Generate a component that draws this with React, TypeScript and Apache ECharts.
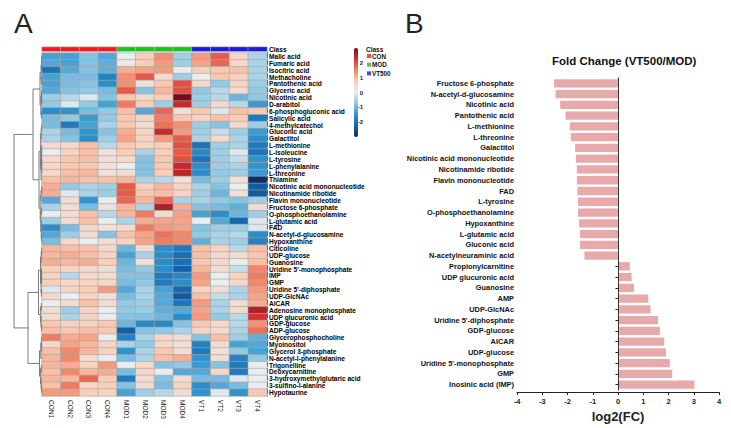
import React, { useEffect, useRef } from "react";
import * as echarts from "echarts";

const samples = ["CON1", "CON2", "CON3", "CON4", "MOD1", "MOD2", "MOD3", "MOD4", "VT1", "VT2", "VT3", "VT4"];
const sampleClass = [0, 0, 0, 0, 1, 1, 1, 1, 2, 2, 2, 2];
const classNames = ["CON", "MOD", "VT500"];
const classColors = ["#ee1d1d", "#22bf22", "#1b1bd8"];

const metabolites = [
  "Malic acid", "Fumaric acid", "Isocitric acid", "Methacholine", "Pantothenic acid", "Glyceric acid",
  "Nicotinic acid", "D-arabitol", "6-phosphogluconic acid", "Salicylic acid", "4-methylcatechol",
  "Gluconic acid", "Galactitol", "L-methionine", "L-isoleucine", "L-tyrosine", "L-phenylalanine",
  "L-threonine", "Thiamine", "Nicotinic acid mononucleotide", "Nicotinamide ribotide",
  "Flavin mononucleotide", "Fructose 6-phosphate", "O-phosphoethanolamine", "L-glutamic acid", "FAD",
  "N-acetyl-d-glucosamine", "Hypoxanthine", "Citicoline", "UDP-glucose", "Guanosine",
  "Uridine 5'-monophosphate", "IMP", "GMP", "Uridine 5'-diphosphate", "UDP-GlcNAc", "AICAR",
  "Adenosine monophosphate", "UDP glucuronic acid", "GDP-glucose", "ADP-glucose",
  "Glycerophosphocholine", "Myoinositol", "Glycerol 3-phosphate", "N-acetyl-l-phenylalanine",
  "Trigonelline", "Deoxycarnitine", "3-hydroxymethylglutaric acid", "3-sulfino-l-alanine", "Hypotaurine",
];

const heatValues = [
  [-1.3, -1.3, -0.8, -1.2, 0, 0.7, 1.4, -0.6, 1.3, 1.9, 0.5, -0.5],
  [-1.2, -1.3, -0.8, -1.1, 0.1, 0.7, 1.3, -0.6, 1.2, 1.8, 0.5, -0.5],
  [-2.0, -1.2, -0.8, -1.1, 1.1, 1.2, 1.3, 0, 0.7, 0.8, 0.9, -0.5],
  [-1.3, -0.9, -0.9, -1.8, 1.4, 1.9, 0.4, -0.6, 0, 0.8, 0.6, -0.5],
  [-1.3, -0.9, -0.8, -1.6, 1.4, 0.3, 0.8, 2.0, 0.5, -0.7, 0.6, -0.6],
  [-1.2, -0.8, -0.7, -0.9, 1.9, -0.8, 1.0, 2.0, -0.7, -0.4, 0.4, -0.7],
  [-0.6, -0.4, -0.1, -0.8, 0.8, 0.5, 0.7, 3.0, -0.6, -0.4, -1.0, -0.7],
  [-0.7, -0.1, -0.7, -1.3, 1.6, 0.7, -0.6, 2.4, -0.6, 0.5, -0.4, -1.4],
  [-1.6, -1.5, -0.9, -0.7, 0.9, -1.2, 1.8, 0.3, 0.8, -0.1, 0.9, 0.8],
  [-0.9, -0.7, -1.4, -0.7, 0.8, 0.6, 1.6, 0.8, 0.6, 0.9, 0.7, -1.9],
  [-0.9, -1.9, -1.3, -0.5, 0.8, 0.4, 1.7, 1.4, -0.6, -0.8, 0.5, -0.6],
  [-0.5, -0.9, -1.5, -0.8, 1.1, 0.6, 2.4, 1.3, -0.6, -0.3, -0.6, -1.4],
  [-0.5, -0.8, -1.6, -0.6, 1.2, 0.6, 1.3, 1.9, -0.5, 0.5, -0.5, -1.6],
  [0.5, 0.5, 0.9, -0.4, 0.8, 0.6, 0.7, 2.0, -2.0, -0.6, -0.5, -1.9],
  [0, 0.6, 0.9, 0.3, 0.7, -0.5, 0.7, 1.9, -1.7, -0.6, -0.1, -2.0],
  [0.5, 0.8, 0.9, 0.4, 0.5, -0.8, 0.8, 2.0, -2.0, -0.6, -0.3, -1.5],
  [0.5, 0.8, 0.8, 0.3, 0, -0.8, 0.8, 2.4, -1.6, -0.6, -0.5, -1.5],
  [0.5, 0.9, 1.0, 0.3, 0.4, -0.8, 0.7, 2.5, -1.6, -0.7, -0.6, -1.4],
  [0.9, 1.0, 0.9, 0.9, 1.0, -0.5, -0.4, 0.3, -0.9, -0.6, 0.3, -3.0],
  [1.1, -0.7, -0.5, -0.6, 1.9, 0.7, 1.0, 0.6, -0.5, -0.8, 0, -2.4],
  [1.1, -0.1, -0.5, -0.6, 1.9, 0.8, 0.9, 0.6, -0.6, -1.0, 0.3, -2.4],
  [-1.2, 0.4, -1.5, 0, 1.8, 1.0, 1.8, -0.5, -0.5, -0.7, -0.8, -0.6],
  [-0.5, 0.4, -0.9, 0.3, 1.0, -0.5, 2.6, 1.1, -0.8, -0.9, -1.1, 0.4],
  [0, 0.4, 0.9, -0.4, 1.0, 1.6, 0.4, 1.2, -1.3, -1.6, -1.0, -0.6],
  [-0.6, 0.4, 0.9, 0, -0.5, 1.1, 1.2, 1.2, 0, -1.2, -2.2, -0.1],
  [-1.6, -0.9, 0.5, 0.3, 0.4, 1.6, 1.3, 1.2, -0.8, -0.6, -0.6, -0.1],
  [-1.2, -0.6, 0.4, -0.8, 0.9, 1.2, 1.7, 1.5, -0.7, -0.5, -0.4, -1.6],
  [-0.9, 0.5, 0, 0.4, 0.6, 1.2, 1.6, 1.5, -1.1, -0.5, -0.6, -1.8],
  [1.0, 0.9, 0.9, 0.5, -1.0, 0.4, -1.6, -1.9, 0.9, 0.6, -0.4, 0.9],
  [1.0, 1.1, 0.9, 0.6, -1.3, -0.5, -1.6, -2.1, 0.9, 0.5, 0.4, 0.8],
  [1.1, 1.0, 1.1, 0.7, -1.0, 0.3, -1.6, -2.1, 0.8, 0.5, 0, 0.9],
  [0.7, 0.6, 0.5, 0.4, -0.9, -0.7, -1.6, -2.3, 1.0, 0.4, -0.3, 1.5],
  [0.6, -0.4, 0.5, 0.4, -0.8, -0.8, -1.9, -1.7, 1.3, 0, 0.6, 1.6],
  [0.7, 0.5, 0.6, 0.5, -0.9, -0.7, -1.9, -1.6, 1.2, 0, 0.5, 1.5],
  [-0.1, 0.6, 0.7, 1.3, -1.2, -0.5, -1.3, -2.2, 0.6, 0.4, -0.5, 1.3],
  [0.5, 0, 0.6, 0.3, -0.9, -0.5, -1.2, -2.4, 0.9, -0.3, -0.5, 1.2],
  [0, 0.4, 0.9, 0.4, -0.7, -0.6, -1.2, -2.0, 1.3, -0.5, 0.4, 1.1],
  [0.4, -0.6, 0.6, 0, -0.7, -0.6, -1.1, -1.2, 1.2, -0.5, 0.5, 2.6],
  [0.4, -0.5, 0.6, 0, -0.8, -0.8, -1.0, -1.6, 1.3, -0.7, -0.4, 2.3],
  [0.8, 0.6, 0.6, 0.8, -1.0, -1.7, -1.7, -0.8, 0.8, 0.5, -0.4, 1.4],
  [0.9, 0.8, 0.9, 0.8, -2.3, -0.8, -0.7, -0.5, 0.6, 0.4, -0.5, 1.7],
  [1.6, 1.1, 1.2, 0, -1.8, -0.5, 0.5, 0.4, -0.8, 0.9, -0.6, -1.1],
  [0.5, 1.2, 1.0, 0.6, -0.5, -0.7, 0.5, 0.3, -1.8, 0.4, -1.3, -1.2],
  [0.9, 1.5, 1.0, 0.6, -1.5, -0.5, 0.8, 0.4, -1.9, 0.3, -0.7, -1.3],
  [1.0, 1.5, 0.4, 0, -0.9, -0.5, 0.9, 1.1, -1.5, 0.4, -1.8, -0.7],
  [1.0, 1.1, 0.6, 1.3, 0, 0.5, -0.8, -0.7, -1.4, -0.8, -1.9, 0],
  [0.9, 1.5, 1.0, 1.1, -0.9, 0.5, 0, -1.2, -1.2, 0.5, -1.9, 0],
  [1.0, 1.0, 1.8, 0.7, -1.9, 0.4, -0.8, 0.4, -0.9, -0.9, -0.1, 0],
  [0.9, 1.6, 0.5, 0.7, -0.8, 0.4, -0.9, 0.6, -1.6, -1.2, -0.9, 0],
  [1.3, 1.3, 0.7, 0.6, -1.3, -0.6, -0.4, 0.4, -1.5, -0.1, -1.5, 0.8],
];

const colorTicks = [-2, -1, 0, 1, 2];

// Row dendrogram: [height, left, right]; leaves are row indices
type TreeNode = number | [number, TreeNode, TreeNode];
const dendroA: TreeNode = [2.0, [1.0, [0.5, [0.3, 0, 1], 2], [0.6, 3, 4]], [1.2, [0.5, 5, [0.3, 6, 7]], [0.6, 8, 9]]];
const dendroB: TreeNode = [3.0,
  [1.6, [0.8, [0.4, 10, 11], 12], [1.0, [0.5, [0.3, 13, 14], [0.4, [0.2, 15, 16], 17]], 18]],
  [1.8, [1.0, [0.4, 19, 20], 21], [1.2, [0.6, 22, 23], [0.8, [0.5, 24, 25], [0.5, 26, 27]]]]];
const dendroC: TreeNode = [3.5,
  [1.5, [0.8, [0.4, 28, 29], 30], [1.0, [0.5, 31, [0.3, 32, 33]], [0.6, 34, 35]]],
  [1.6, [0.7, 36, 37], [1.0, 38, [0.6, 39, 40]]]];
const dendroD: TreeNode = [2.5, [1.2, [0.6, 41, [0.4, 42, 43]], 44], [1.4, [0.7, 45, 46], [0.9, 47, [0.5, 48, 49]]]];
const dendroRoot: TreeNode = [28, [9, dendroA, dendroB], [14, dendroC, dendroD]];

const fcNames = [
  "Fructose 6-phosphate", "N-acetyl-d-glucosamine", "Nicotinic acid", "Pantothenic acid", "L-methionine",
  "L-threonine", "Galactitol", "Nicotinic acid mononucleotide", "Nicotinamide ribotide",
  "Flavin mononucleotide", "FAD", "L-tyrosine", "O-phosphoethanolamine", "Hypoxanthine",
  "L-glutamic acid", "Gluconic acid", "N-acetylneuraminic acid", "Propionylcarnitine",
  "UDP glucuronic acid", "Guanosine", "AMP", "UDP-GlcNAc", "Uridine 5'-diphosphate", "GDP-glucose",
  "AICAR", "UDP-glucose", "Uridine 5'-monophosphate", "GMP", "Inosinic acid (IMP)",
];
const fcValues = [
  -2.53, -2.47, -2.29, -2.08, -1.91, -1.87, -1.70, -1.67, -1.63, -1.63, -1.61, -1.58, -1.58, -1.54,
  -1.50, -1.50, -1.33, 0.47, 0.54, 0.63, 1.20, 1.29, 1.59, 1.66, 1.83, 1.90, 2.05, 2.15, 3.03,
];

const heatColors = ["#0b2e63", "#1565ad", "#2f93cd", "#8cc6e3", "#e8edf0", "#fbcdb6", "#f2876a", "#d9352e", "#7b0a1e"];
const FONT = "Liberation Sans, Arial, sans-serif";

function layoutTree(node: TreeNode, segs: number[][]): { pos: number; h: number } {
  if (typeof node === "number") return { pos: node, h: 0 };
  const [h, a, b] = node;
  const L = layoutTree(a, segs);
  const R = layoutTree(b, segs);
  segs.push([h, L.pos, R.pos, L.h, R.h]);
  return { pos: (L.pos + R.pos) / 2, h };
}

export default function App() {
  const ref = useRef<HTMLDivElement>(null);
  useEffect(() => {
    document.body.style.margin = "0";
    const chart = echarts.init(ref.current!, null, { renderer: "svg" });

    const heatData: number[][] = [];
    heatValues.forEach((row, r) => row.forEach((v, c) => heatData.push([c, r, v])));
    const classData = sampleClass.map((k, i) => [i, 0, k]);
    const segs: number[][] = [];
    layoutTree(dendroRoot, segs);

    const option: any = {
      animation: false,
      backgroundColor: "#fff",
      textStyle: { fontFamily: FONT },
      title: [
        { text: "A", left: 9, top: 4, textStyle: { fontSize: 28, fontWeight: "normal", color: "#222", fontFamily: FONT } },
        { text: "B", left: 400, top: 4, textStyle: { fontSize: 28, fontWeight: "normal", color: "#222", fontFamily: FONT } },
        { text: "Fold Change (VT500/MOD)", left: 547, top: 50, textStyle: { fontSize: 11.5, fontWeight: "bold", color: "#111", fontFamily: FONT } },
        { text: "Class", left: 366, top: 46, padding: 0, textStyle: { fontSize: 6.5, fontWeight: "bold", color: "#111", fontFamily: FONT } },
      ],
      legend: {
        data: classNames.map((n) => ({ name: n, icon: "rect" })),
        orient: "vertical",
        left: 367,
        top: 53,
        padding: 0,
        itemWidth: 4,
        itemHeight: 4,
        itemGap: 2.7,
        textStyle: { fontSize: 6.3, fontWeight: "bold", color: "#111", fontFamily: FONT, padding: [0, 0, 0, -4] },
      },
      grid: [
        { left: 42, top: 53, width: 225, height: 343 },
        { left: 42, top: 47, width: 225, height: 4.3 },
        { left: 354, top: 48, width: 4, height: 89 },
        { left: 14, top: 53, width: 28, height: 343 },
        { left: 517, top: 78, width: 202, height: 313 },
      ],
      visualMap: [
        {
          type: "continuous",
          seriesIndex: 0,
          dimension: 2,
          min: -3,
          max: 3,
          inRange: { color: heatColors },
          left: 354,
          top: 48,
          itemWidth: 4,
          itemHeight: 89,
          padding: 0,
          calculable: false,
          text: null,
        },
        {
          type: "piecewise",
          seriesIndex: 1,
          dimension: 2,
          show: false,
          pieces: classColors.map((c, i) => ({ value: i, color: c })),
        },
      ],
      xAxis: [
        {
          type: "category", gridIndex: 0, data: samples, position: "bottom",
          axisLine: { show: false }, axisTick: { show: false },
          axisLabel: { rotate: -90, fontSize: 6.5, margin: 4, color: "#222", interval: 0, fontFamily: FONT },
        },
        { type: "category", gridIndex: 1, data: samples, show: false },
        { type: "value", gridIndex: 2, min: 0, max: 1, show: false },
        { type: "value", gridIndex: 3, min: 0, max: 28, inverse: true, show: false },
        {
          type: "value", gridIndex: 4, min: -4, max: 4, interval: 1, offset: 2,
          axisLine: { show: true, lineStyle: { color: "#222", width: 1 } },
          axisTick: { show: true, length: 3, lineStyle: { color: "#222" } },
          splitLine: { show: false },
          axisLabel: { fontSize: 7.5, fontWeight: "bold", color: "#222", margin: 5, fontFamily: FONT },
          name: "log2(FC)", nameLocation: "middle", nameGap: 16,
          nameTextStyle: { fontSize: 13, fontWeight: "bold", color: "#222", fontFamily: FONT },
        },
      ],
      yAxis: [
        {
          type: "category", gridIndex: 0, data: metabolites, inverse: true, position: "right",
          axisLine: { show: true, lineStyle: { color: "#111", width: 1, type: [4.5, 2.36] } },
          axisTick: { show: false },
          axisLabel: { fontSize: 6.6, fontWeight: "bold", color: "#000", margin: 2, interval: 0, fontFamily: FONT },
        },
        {
          type: "category", gridIndex: 1, data: ["Class"], position: "right",
          axisLine: { show: false }, axisTick: { show: false },
          axisLabel: { fontSize: 6.6, fontWeight: "bold", color: "#000", margin: 2, fontFamily: FONT },
        },
        {
          type: "value", gridIndex: 2, min: -3, max: 3, interval: 1, position: "right",
          axisLine: { show: false }, axisTick: { show: false }, splitLine: { show: false },
          axisLabel: {
            fontSize: 6, fontWeight: "bold", color: "#222", margin: 5, align: "right", fontFamily: FONT,
            formatter: (v: number) => (colorTicks.includes(v) ? String(v) : ""),
          },
        },
        { type: "value", gridIndex: 3, min: -0.5, max: 49.5, inverse: true, show: false },
        {
          type: "category", gridIndex: 4, data: fcNames, inverse: true,
          axisLine: { show: true, lineStyle: { color: "#222", width: 1 } },
          axisTick: { show: true, length: 2.5, alignWithLabel: true, lineStyle: { color: "#222" } },
          axisLabel: { fontSize: 7.4, fontWeight: "bold", color: "#111", margin: 3, interval: 0, fontFamily: FONT },
        },
      ],
      series: [
        {
          type: "heatmap", xAxisIndex: 0, yAxisIndex: 0, data: heatData,
          itemStyle: { borderColor: "#a6a6a6", borderWidth: 0.6 },
          emphasis: { disabled: true },
        },
        {
          type: "heatmap", xAxisIndex: 1, yAxisIndex: 1, data: classData,
          itemStyle: { borderColor: "#d0d0d0", borderWidth: 0.5 },
          emphasis: { disabled: true },
        },
        ...classNames.map((n, i) => ({
          type: "scatter", name: n, xAxisIndex: 1, yAxisIndex: 1, data: [],
          itemStyle: { color: classColors[i] },
        })),
        {
          type: "custom", xAxisIndex: 3, yAxisIndex: 3, data: segs, silent: true,
          renderItem: (_p: any, api: any) => {
            const h = api.value(0), y1 = api.value(1), y2 = api.value(2), h1 = api.value(3), h2 = api.value(4);
            const pts = [api.coord([h1, y1]), api.coord([h, y1]), api.coord([h, y2]), api.coord([h2, y2])];
            return { type: "polyline", shape: { points: pts }, style: { stroke: "#7a7a7a", fill: "none", lineWidth: 1 } };
          },
        },
        {
          type: "bar", xAxisIndex: 4, yAxisIndex: 4, data: fcValues, barCategoryGap: "23%",
          itemStyle: { color: "#e8a9ab" },
          emphasis: { disabled: true },
          markLine: {
            silent: true, symbol: ["none", "none"], label: { show: false },
            lineStyle: { color: "#333", width: 1, type: "solid" },
            data: [{ xAxis: 0 }],
          },
        },
      ],
    };
    chart.setOption(option);
    return () => chart.dispose();
  }, []);
  return <div ref={ref} style={{ position: "fixed", left: 0, top: 0, width: 731, height: 428, background: "#fff" }} />;
}
